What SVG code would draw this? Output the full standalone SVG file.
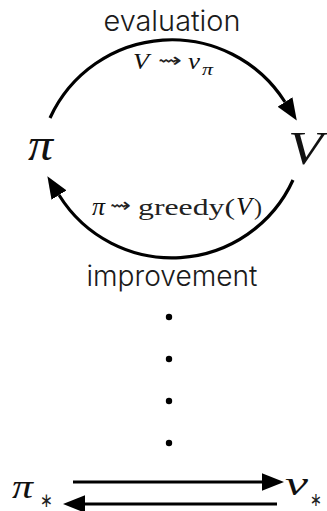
<svg xmlns="http://www.w3.org/2000/svg" width="327" height="511" viewBox="0 0 327 511">
<style>
.lbl{font-family:Inter,"Liberation Sans",sans-serif;font-weight:300;font-size:28px;fill:#1a1a1a;text-anchor:middle}
.m{font-family:"Liberation Serif","DejaVu Serif",serif;fill:#222}
.mi{font-family:"Liberation Serif","DejaVu Serif",serif;font-style:italic;fill:#111}
.sq{font-family:"DejaVu Sans",sans-serif;fill:#222}
.ln{fill:none;stroke:#000;stroke-width:3.2}
</style>
<defs>
<marker id="ah" markerUnits="userSpaceOnUse" markerWidth="22" markerHeight="18" viewBox="0 0 20 16" refX="0" refY="8" orient="auto">
<path d="M0,0 L20,8 L0,16 z" fill="#000"/>
</marker>
</defs>
<g id="connectors">
<path class="ln" d="M50,118 A134,134 0 0 1 285,102" marker-end="url(#ah)"/>
<path class="ln" d="M293,180 A133,133 0 0 1 59,195" marker-end="url(#ah)"/>
<path class="ln" d="M73,482 L262,482" marker-end="url(#ah)"/>
<path class="ln" d="M277,504 L85,504" marker-end="url(#ah)"/>
</g>
<g id="eval-label">
<text class="lbl" x="172" y="31" textLength="137" lengthAdjust="spacingAndGlyphs">evaluation</text>
<text class="mi" x="133" y="69" font-size="23" textLength="16" lengthAdjust="spacingAndGlyphs">V</text>
<text class="sq" x="158" y="67" font-size="20" textLength="24" lengthAdjust="spacingAndGlyphs">⇝</text>
<text class="mi" x="188" y="69" font-size="23" textLength="12" lengthAdjust="spacingAndGlyphs">v</text>
<text class="mi" x="202" y="75" font-size="16" textLength="11" lengthAdjust="spacingAndGlyphs">π</text>
</g>
<g id="node-pi">
<text class="mi" x="28" y="160" font-size="46" textLength="25" lengthAdjust="spacingAndGlyphs">π</text>
</g>
<g id="node-V">
<text class="mi" x="288" y="164" font-size="46" textLength="35" lengthAdjust="spacingAndGlyphs">V</text>
</g>
<g id="impr-label">
<text class="mi" x="92" y="215" font-size="25" textLength="13" lengthAdjust="spacingAndGlyphs">π</text>
<text class="sq" x="110" y="212" font-size="20" textLength="21" lengthAdjust="spacingAndGlyphs">⇝</text>
<text class="m" x="138" y="215" font-size="24" textLength="97" lengthAdjust="spacingAndGlyphs">greedy(</text>
<text class="mi" x="236" y="215" font-size="25" textLength="16" lengthAdjust="spacingAndGlyphs">V</text>
<text class="m" x="254" y="215" font-size="24" textLength="8" lengthAdjust="spacingAndGlyphs">)</text>
<text class="lbl" x="172" y="286" textLength="171" lengthAdjust="spacingAndGlyphs">improvement</text>
</g>
<g id="dots" fill="#000">
<circle cx="169" cy="317" r="3.2"/>
<circle cx="169" cy="359" r="3.2"/>
<circle cx="169" cy="401" r="3.2"/>
<circle cx="169" cy="443" r="3.2"/>
</g>
<g id="node-pistar">
<text class="mi" x="12" y="498" font-size="34" textLength="21" lengthAdjust="spacingAndGlyphs">π</text>
<text class="sq" x="40" y="507" font-size="20" textLength="13" lengthAdjust="spacingAndGlyphs">∗</text>
</g>
<g id="node-vstar">
<text class="mi" x="285" y="495" font-size="34" textLength="23" lengthAdjust="spacingAndGlyphs">v</text>
<text class="sq" x="310" y="506" font-size="19" textLength="12" lengthAdjust="spacingAndGlyphs">∗</text>
</g>
</svg>
